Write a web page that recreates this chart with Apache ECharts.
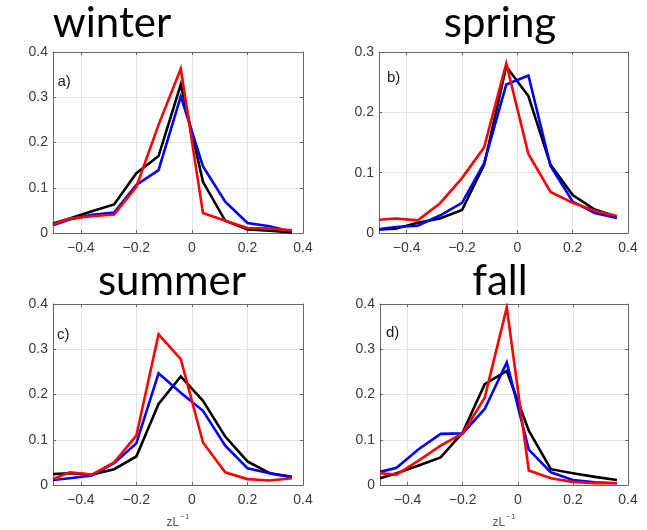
<!DOCTYPE html>
<html>
<head>
<meta charset="utf-8">
<script src="https://cdn.jsdelivr.net/npm/echarts@6/dist/echarts.min.js"></script>
<style>
  html, body { margin: 0; padding: 0; background: #ffffff; }
  #chart { width: 647px; height: 530px; }
</style>
</head>
<body>
<div id="chart"></div>
<script>
// Stability parameter bins (zL^-1) shared by every panel
const zBins = [-0.5, -0.44, -0.36, -0.28, -0.2, -0.12, -0.04, 0.04, 0.12, 0.2, 0.28, 0.36];
const xTickValues = [-0.4, -0.2, 0, 0.2, 0.4];

const seasons = ['winter', 'spring', 'summer', 'fall'];
const panelTags = ['a)', 'b)', 'c)', 'd)'];
const yMaxBySeason = [0.4, 0.3, 0.4, 0.4];

// Relative frequencies per bin
const winterBlack = [0.021, 0.032, 0.048, 0.063, 0.132, 0.170, 0.328, 0.113, 0.027, 0.008, 0.005, 0.001];
const winterBlue  = [0.017, 0.030, 0.040, 0.045, 0.106, 0.139, 0.302, 0.147, 0.069, 0.022, 0.015, 0.003];
const winterRed   = [0.019, 0.032, 0.037, 0.041, 0.102, 0.239, 0.363, 0.044, 0.027, 0.011, 0.010, 0.006];

const springBlack = [0.006, 0.007, 0.017, 0.024, 0.038, 0.113, 0.276, 0.227, 0.113, 0.063, 0.039, 0.027];
const springBlue  = [0.006, 0.010, 0.012, 0.029, 0.050, 0.116, 0.246, 0.261, 0.111, 0.052, 0.033, 0.025];
const springRed   = [0.022, 0.024, 0.021, 0.049, 0.091, 0.142, 0.281, 0.131, 0.068, 0.050, 0.037, 0.028];

const summerBlack = [0.024, 0.026, 0.023, 0.035, 0.063, 0.179, 0.240, 0.186, 0.107, 0.052, 0.026, 0.018];
const summerBlue  = [0.011, 0.015, 0.021, 0.048, 0.092, 0.247, 0.204, 0.164, 0.087, 0.037, 0.026, 0.017];
const summerRed   = [0.013, 0.028, 0.023, 0.050, 0.109, 0.333, 0.278, 0.094, 0.028, 0.013, 0.010, 0.015];

const fallBlack = [0.015, 0.026, 0.043, 0.061, 0.116, 0.223, 0.252, 0.120, 0.035, 0.026, 0.018, 0.011];
const fallBlue  = [0.029, 0.038, 0.079, 0.113, 0.114, 0.168, 0.271, 0.078, 0.028, 0.011, 0.006, 0.004];
const fallRed   = [0.026, 0.023, 0.054, 0.087, 0.114, 0.193, 0.392, 0.032, 0.015, 0.007, 0.004, 0.004];

const seasonSeries = [
  [winterBlack, winterBlue, winterRed],
  [springBlack, springBlue, springRed],
  [summerBlack, summerBlue, summerRed],
  [fallBlack, fallBlue, fallRed]
];
const lineColors = ['#000000', '#0000ff', '#ff0000'];

// Panel placement (pixels)
const panels = [
  { left: 53,  top: 52,  width: 250, height: 181, titleX: 112, titleY: 23,  tagX: 57.5, tagY: 82 },
  { left: 379, top: 52,  width: 249, height: 181, titleX: 500, titleY: 23,  tagX: 387,  tagY: 78 },
  { left: 53,  top: 304, width: 250, height: 182, titleX: 172, titleY: 281, tagX: 57,   tagY: 335 },
  { left: 380, top: 304, width: 248, height: 182, titleX: 500, titleY: 281, tagX: 386,  tagY: 333 }
];

const frameColor = '#666666';
const labelColor = '#3a3a3a';
const gridLineColor = '#e4e4e4';
const tickFont = 'Liberation Sans';

function fmt(v) {
  if (Math.abs(v) < 1e-9) return '0';
  return String(+v.toFixed(1)).replace('-', '\u2212');
}

const grid = [], xAxis = [], yAxis = [], series = [], graphic = [];

panels.forEach((p, i) => {
  grid.push({ left: p.left, top: p.top, width: p.width, height: p.height, containLabel: false });
  const isBottomRow = i >= 2;
  // bottom x axis (labels, grid lines)
  xAxis.push({
    type: 'value', gridIndex: i, min: -0.5, max: 0.4, position: 'bottom',
    axisLine: { show: true, onZero: false, lineStyle: { color: frameColor, width: 1 } },
    axisTick: { show: true, inside: true, length: 3, customValues: xTickValues, lineStyle: { color: frameColor } },
    axisLabel: { show: true, customValues: xTickValues, formatter: fmt, color: labelColor,
                 fontFamily: tickFont, fontSize: 14, margin: 8 },
    splitLine: { show: true, lineStyle: { color: gridLineColor, width: 1 } },
    name: isBottomRow ? '{a|zL}{b|\u22121}' : '',
    nameLocation: 'middle', nameGap: 28,
    nameTextStyle: {
      rich: {
        a: { fontFamily: tickFont, fontSize: 12, color: '#555555', verticalAlign: 'bottom', lineHeight: 16 },
        b: { fontFamily: tickFont, fontSize: 8, color: '#555555', verticalAlign: 'top', lineHeight: 16, padding: [0, 0, 6, 1] }
      }
    }
  });
  // top x axis (frame + ticks)
  xAxis.push({
    type: 'value', gridIndex: i, min: -0.5, max: 0.4, position: 'top',
    axisLine: { show: true, onZero: false, lineStyle: { color: frameColor, width: 1 } },
    axisTick: { show: true, inside: true, length: 3, customValues: xTickValues, lineStyle: { color: frameColor } },
    axisLabel: { show: false }, splitLine: { show: false }
  });
  // left y axis
  yAxis.push({
    type: 'value', gridIndex: i, min: 0, max: yMaxBySeason[i], interval: 0.1, position: 'left',
    axisLine: { show: true, onZero: false, lineStyle: { color: frameColor, width: 1 } },
    axisTick: { show: true, inside: true, length: 3, lineStyle: { color: frameColor } },
    axisLabel: { show: true, formatter: fmt, color: labelColor, fontFamily: tickFont, fontSize: 14, margin: 5 },
    splitLine: { show: true, lineStyle: { color: gridLineColor, width: 1 } }
  });
  // right y axis (frame + ticks)
  yAxis.push({
    type: 'value', gridIndex: i, min: 0, max: yMaxBySeason[i], interval: 0.1, position: 'right',
    axisLine: { show: true, onZero: false, lineStyle: { color: frameColor, width: 1 } },
    axisTick: { show: true, inside: true, length: 3, lineStyle: { color: frameColor } },
    axisLabel: { show: false }, splitLine: { show: false }
  });

  seasonSeries[i].forEach((vals, k) => {
    series.push({
      type: 'line', xAxisIndex: i * 2, yAxisIndex: i * 2,
      data: zBins.map((z, j) => [z, vals[j]]),
      showSymbol: false, symbol: 'none', clip: true, silent: true,
      lineStyle: { color: lineColors[k], width: 2.6, join: 'miter' },
      z: 3 + k
    });
  });

  graphic.push({
    type: 'text', x: p.titleX, y: p.titleY, silent: true,
    style: { text: seasons[i], font: '42px Lato', fill: '#000000',
             align: 'center', textAlign: 'center', verticalAlign: 'middle', textVerticalAlign: 'middle' }
  });
  graphic.push({
    type: 'text', x: p.tagX, y: p.tagY, silent: true, z: 10,
    style: { text: panelTags[i], font: '15px "Liberation Sans"', fill: '#222222',
             align: 'left', textAlign: 'left', verticalAlign: 'middle', textVerticalAlign: 'middle' }
  });
});

const chart = echarts.init(document.getElementById('chart'), null, { renderer: 'canvas' });
chart.setOption({
  animation: false,
  backgroundColor: '#ffffff',
  grid, xAxis, yAxis, series, graphic
});
</script>
</body>
</html>
